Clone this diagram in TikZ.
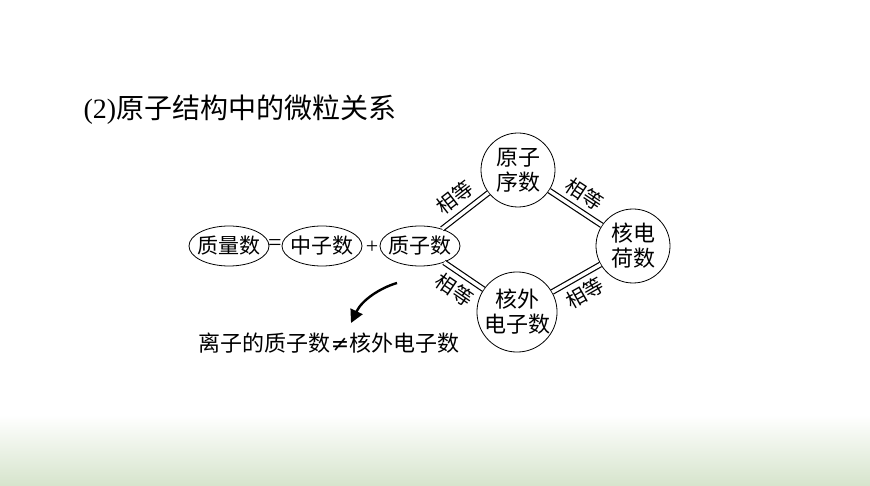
\documentclass[tikz,border=0pt]{standalone}
\usepackage{fontspec}
\setmainfont{Liberation Serif}
\newfontfamily\cjk{Noto Sans CJK SC}
\newfontfamily\symfont{DejaVu Sans}
\usetikzlibrary{positioning,arrows.meta,shapes.geometric}
\definecolor{bandgreen}{RGB}{214,228,204}
\begin{document}
\begin{tikzpicture}[x=1pt,y=-1pt,
  oval/.style={draw, ellipse, thick, minimum width=80pt, minimum height=40pt, inner xsep=-6pt, inner ysep=0pt, font=\cjk\fontsize{21}{24}\selectfont},
  ring/.style={draw, circle, thick, minimum size=74pt, inner sep=0pt, align=center, font=\cjk\fontsize{22}{25}\selectfont},
  eqline/.style={double, double distance=3.5pt, line width=1.2pt},
  eqlabel/.style={midway, sloped, inner sep=7pt, font=\cjk\fontsize{20}{22}\selectfont}
]
\useasboundingbox (0,0) rectangle (870,486);
\shade[top color=white, bottom color=bandgreen] (0,415) rectangle (870,486);
\node[anchor=west, font=\fontsize{28}{32}\selectfont] (title) at (80,110) {(2){\cjk 原子结构中的微粒关系}};

\node[oval] (mass) at (229,246) {质量数};
\node[oval] (neut) at (322,246) {中子数};
\node[oval] (prot) at (420,246) {质子数};
\node[font=\fontsize{24}{24}\selectfont] (eq) at (275,245) {=};
\node[font=\fontsize{22}{22}\selectfont] (plus) at (372,247) {+};
\node[ring] (atomic) at (518,170) {原子\\序数};
\node[ring] (charge) at (633,246) {核电\\荷数};
\node[ring, minimum size=80pt] (elec) at (517,312) {核外\\电子数};

\draw[eqline] (prot) -- node[eqlabel, above] {相等} (atomic);
\draw[eqline] (atomic) -- node[eqlabel, above] {相等} (charge);
\draw[eqline] (prot) -- node[eqlabel, below] {相等} (elec);
\draw[eqline] (elec) -- node[eqlabel, below] {相等} (charge);

\node[font=\cjk\fontsize{22}{24}\selectfont] (ion) at (329,343) {离子的质子数{\symfont ≠}核外电子数};
\coordinate (arrstart) at (397,283);
\coordinate (arrend) at (351,323);
\draw[line width=2.4pt, -{Triangle[length=13pt,width=13pt]}] (arrstart) .. controls (380,288) and (362,300) .. (arrend);
\end{tikzpicture}
\end{document}
